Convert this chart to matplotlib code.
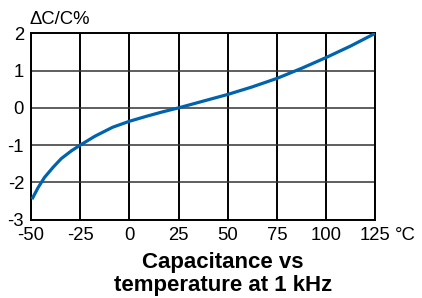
import matplotlib
matplotlib.use("Agg")
import matplotlib.pyplot as plt

temperature = [-49.5, -46.4, -43.2, -38.7, -34.6, -29.4, -25, -17.5, -8.5, 0, 8.4, 16.7, 25, 36.8, 50, 62.3, 75, 87.5, 100, 112.5, 125]
delta_c = [-2.45, -2.14, -1.87, -1.59, -1.36, -1.15, -1.0, -0.76, -0.52, -0.36, -0.23, -0.11, 0.0, 0.17, 0.36, 0.56, 0.79, 1.06, 1.35, 1.66, 2.0]
x_ticks = [-50, -25, 0, 25, 50, 75, 100, 125]
y_ticks = [-3, -2, -1, 0, 1, 2]
y_label = "\u0394C/C%"
x_unit = "\u00b0C"
title_lines = ["Capacitance vs", "temperature at 1 kHz"]

plt.rcParams['font.family'] = ['Liberation Sans', 'DejaVu Sans']

fig = plt.figure(figsize=(4.22, 2.98), dpi=100)
ax = fig.add_axes([31/422, 1 - 219.7/298, (375.3 - 31)/422, (219.7 - 33.3)/298])

ax.set_xlim(-50, 125)
ax.set_ylim(-3, 2)
ax.set_xticks(x_ticks)
ax.set_yticks(y_ticks)
ax.set_xticklabels([str(t) for t in x_ticks])
ax.set_yticklabels([str(t) for t in y_ticks])
ax.tick_params(length=0, labelsize=13.3, pad=5)

for t in x_ticks:
    ax.axvline(t, color='black', lw=1.4, zorder=1)
for t in y_ticks:
    ax.axhline(t, color='#333333', lw=1.1, zorder=1)
for s in ax.spines.values():
    s.set_color('black')
    s.set_linewidth(1.4)

ax.plot(temperature, delta_c, color='#0063AE', lw=2.3, solid_capstyle='butt',
        solid_joinstyle='round', zorder=3)

fig.text(30/422, 1 - 20/298, y_label, fontsize=13.3, ha='left', va='center')
fig.text(395/422, 1 - 235/298, x_unit, fontsize=13.3, ha='left', va='center')
fig.text(223/422, 1 - 268/298, title_lines[0], fontsize=16, fontweight='bold', ha='center', va='baseline')
fig.text(223/422, 1 - 291.5/298, title_lines[1], fontsize=16, fontweight='bold', ha='center', va='baseline')

fig.savefig('out.png', dpi=100)
